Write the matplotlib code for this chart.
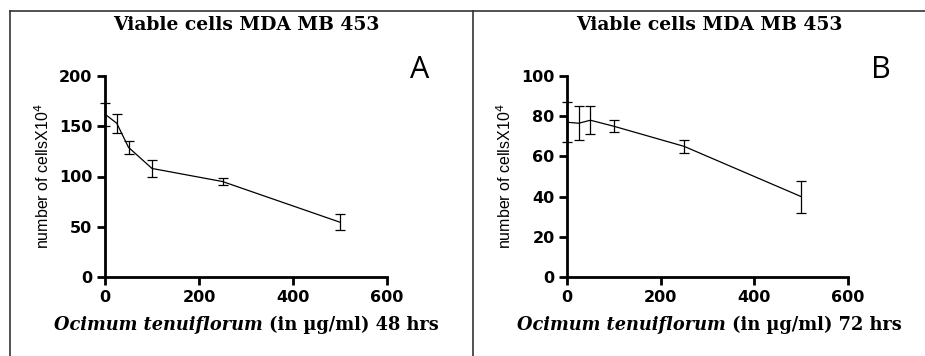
import numpy as np
import matplotlib
matplotlib.use('Agg')
import matplotlib.pyplot as plt
from matplotlib.lines import Line2D

# concentrations (ug/ml)
dose = [0, 25, 50, 100, 250, 500]

# panel A, 48 hrs
cells_48 = [162, 153, 129, 108, 95, 54.5]
err_48 = [11.5, 9.5, 6.5, 8.5, 3.5, 8]

# panel B, 72 hrs
cells_72 = [77, 76.5, 78, 75, 65, 40]
err_72 = [10, 8.5, 7, 3, 3.4, 8]

titles = ['Viable cells MDA MB 453', 'Viable cells MDA MB 453']
hours = ['48 hrs', '72 hrs']
letters = ['A', 'B']
yticks_A = [0, 50, 100, 150, 200]
yticks_B = [0, 20, 40, 60, 80, 100]
xticks = [0, 200, 400, 600]

W, H = 925, 356
fig = plt.figure(figsize=(W/100, H/100), dpi=100)

def px(x0, y0, x1, y1):
	return [x0/W, 1-y1/H, (x1-x0)/W, (y1-y0)/H]

panels = [
	(px(105, 76, 387, 277), cells_48, err_48, yticks_A, 246, 420),
	(px(567, 76, 848, 277), cells_72, err_72, yticks_B, 709, 881),
]

tick_font = dict(family=['DejaVu Sans'], weight='bold', size=11.5)
narrow = ['Liberation Sans Narrow', 'Liberation Sans', 'DejaVu Sans']
serif = ['DejaVu Serif']

for i, (rect, y, e, yt, cx, lx) in enumerate(panels):
	ax = fig.add_axes(rect)
	ax.errorbar(dose, y, yerr=e, color='black', lw=0.9, elinewidth=0.9,
		capsize=3.5, capthick=0.9, clip_on=False, zorder=5)
	ax.set_xlim(0, 600)
	ax.set_ylim(0, yt[-1])
	ax.set_xticks(xticks)
	ax.set_yticks(yt)
	ax.set_xticklabels([str(t) for t in xticks], fontdict=tick_font)
	ax.set_yticklabels([str(t) for t in yt], fontdict=tick_font)
	for s in ['top', 'right']:
		ax.spines[s].set_visible(False)
	for s in ['left', 'bottom']:
		ax.spines[s].set_linewidth(2)
	ax.tick_params(width=2, length=6, pad=3)
	ax.set_ylabel(r'number of cellsX10$^{4}$', family=narrow, fontsize=11.5, labelpad=5)

	fig.text(cx/W, 1-25/H, titles[i], ha='center', va='center',
		family=serif, weight='bold', fontsize=13.5)
	split = (cx + 17) / W
	fig.text(split, 1-325/H, 'Ocimum tenuiflorum', ha='right', va='center',
		family=serif, weight='bold', style='italic', fontsize=12.8)
	fig.text(split, 1-325/H, ' (in \u00b5g/ml) ' + hours[i], ha='left', va='center',
		family=serif, weight='bold', fontsize=12.8)
	fig.text(lx/W, 1-70/H, letters[i], ha='center', va='center',
		family=['Open Sans', 'DejaVu Sans'], fontsize=22)

# panel frame lines
fig.add_artist(Line2D([10/W, 10/W], [0, 1-11/H], color='#333333', lw=1.2))
fig.add_artist(Line2D([473/W, 473/W], [0, 1-11/H], color='#333333', lw=1.2))
fig.add_artist(Line2D([10/W, 1], [1-11/H, 1-11/H], color='#333333', lw=1.2))

fig.savefig('out.png', dpi=100)
